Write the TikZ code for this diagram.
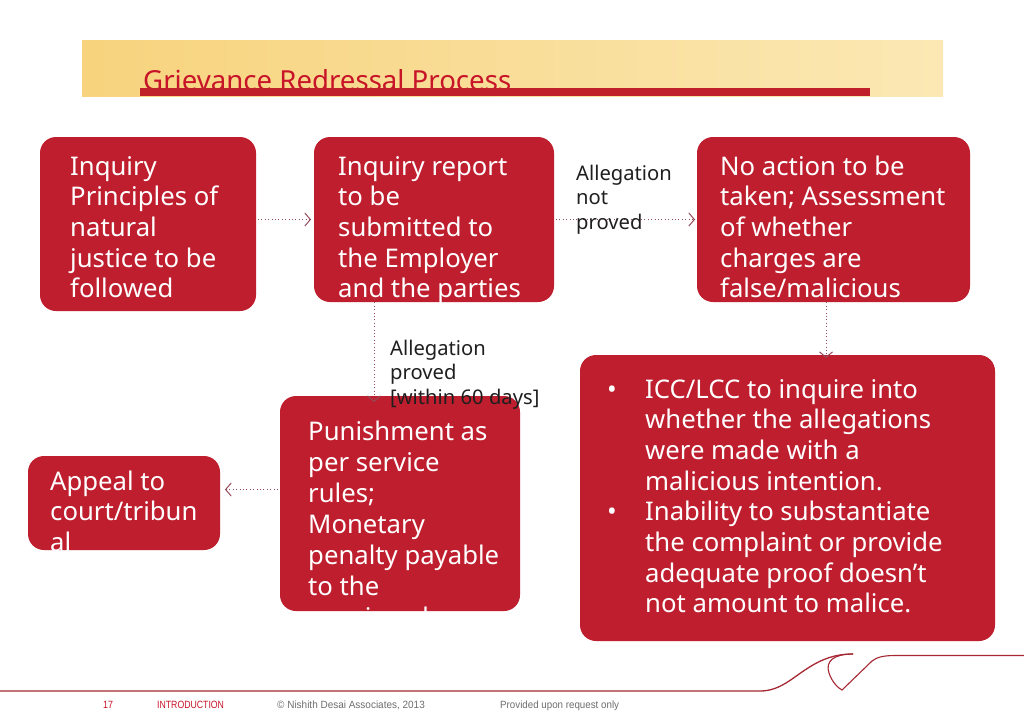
\documentclass[tikz,border=0pt]{standalone}
\usepackage{fontspec}
\setmainfont{Noto Sans}
\newfontfamily\footfont{Liberation Sans}
\usetikzlibrary{arrows.meta,calc}
\definecolor{boxred}{RGB}{190,30,45}
\definecolor{titlered}{RGB}{200,20,40}
\definecolor{barred}{RGB}{192,32,42}
\definecolor{arrowcol}{RGB}{150,75,90}
\definecolor{footred}{RGB}{165,40,50}
\definecolor{footgrey}{RGB}{110,110,110}
\definecolor{goldL}{RGB}{247,211,125}
\definecolor{goldR}{RGB}{251,232,180}
\newcommand{\tl}[1]{\hbox{#1}}
\begin{document}
\begin{tikzpicture}[x=1pt,y=-1pt,
  redbox/.style={rectangle, fill=boxred, draw=none, rounded corners=16pt, inner sep=0pt, outer sep=0pt},
  boxtext/.style={anchor=base west, text=white, inner sep=0pt, font=\fontsize{25.7}{30.7}\selectfont},
  lbltext/.style={anchor=base west, text={black!88}, inner sep=0pt, font=\fontsize{20.2}{24.5}\selectfont},
  flow/.style={draw=arrowcol, line width=1pt, dash pattern=on 1pt off 2.4pt,
     -{Straight Barb[length=5.5pt,width=13pt,line width=1pt]}},
  foottext/.style={anchor=base west, inner sep=0pt, font=\footfont\fontsize{10.5}{12}\selectfont}
]
\useasboundingbox (0,0) rectangle (1024,721);
\fill[white] (0,0) rectangle (1024,721);

% header
\shade[left color=goldL, right color=goldR] (82,40) rectangle (943,96);
\node[anchor=base west, inner sep=0pt, text=titlered, font=\fontsize{27.6}{32}\selectfont] (title) at (143,90) {Grievance Redressal Process};
\fill[barred] (140,88) rectangle (870,96);

% boxes
\node[redbox, minimum width=216pt, minimum height=174pt] (A) at (148,224) {};
\node[redbox, minimum width=240pt, minimum height=165pt] (B) at (434,219.5) {};
\node[redbox, minimum width=273pt, minimum height=165pt] (C) at (833.5,219.5) {};
\node[redbox, minimum width=415pt, minimum height=286pt] (D) at (787.5,498) {};
\node[redbox, minimum width=240pt, minimum height=215pt] (E) at (400,503.5) {};
\node[redbox, minimum width=192pt, minimum height=94pt] (F) at (124,503) {};

% texts
\node[boxtext] (At) at (70,175) {\vtop{\tl{Inquiry}\tl{Principles of}\tl{natural}\tl{justice to be}\tl{followed}}};
\begin{scope}
\clip[rounded corners=16pt] (B.north west) rectangle (B.south east);
\node[boxtext] (Bt) at (338,175) {\vtop{\tl{Inquiry report}\tl{to be}\tl{submitted to}\tl{the Employer}\tl{and the parties}}};
\end{scope}
\node[boxtext] (Ct) at (720,175) {\vtop{\tl{No action to be}\tl{taken; Assessment}\tl{of whether}\tl{charges are}\tl{false/malicious}}};
\node[boxtext] (Db1) at (607,398) {•};
\node[boxtext] (Db2) at (607,520.8) {•};
\node[boxtext] (Dt) at (645,398) {\vtop{\tl{ICC/LCC to inquire into}\tl{whether the allegations}\tl{were made with a}\tl{malicious intention.}\tl{Inability to substantiate}\tl{the complaint or provide}\tl{adequate proof doesn’t}\tl{not amount to malice.}}};
\begin{scope}
\clip[rounded corners=16pt] (E.north west) rectangle (E.south east);
\node[boxtext, font=\fontsize{25.7}{31.1}\selectfont] (Et) at (308,440) {\vtop{\tl{Punishment as}\tl{per service}\tl{rules;}\tl{Monetary}\tl{penalty payable}\tl{to the}\tl{aggrieved}}};
\end{scope}
\begin{scope}
\clip[rounded corners=16pt] (F.north west) rectangle (F.south east);
\node[boxtext] (Ft) at (50,490) {\vtop{\tl{Appeal to}\tl{court/tribun}\tl{al}}};
\end{scope}

% connectors
\coordinate (a1) at ($(A.east |- B.west)+(2,0)$);
\coordinate (b1) at ($(B.west)+(-3,0)$);
\draw[flow] (a1) -- (b1);
\draw[flow] ($(B.east)+(2,0)$) -- ($(C.west)+(-2,0)$);
\coordinate (b2) at ($(B.south)+(-60,-3)$);
\coordinate (e2) at ($(b2 |- E.north)+(0,6)$);
\draw[flow] (b2) -- (e2);
\coordinate (c3) at ($(C.south)+(-7.5,-3)$);
\coordinate (d3) at ($(c3 |- D.north)+(0,3)$);
\draw[flow] (c3) -- (d3);
\coordinate (e4) at ($(E.west)+(-2,-14)$);
\coordinate (f4) at ($(e4 -| F.east)+(5,0)$);
\draw[flow] (e4) -- (f4);

% labels
\node[lbltext] (L1) at (576,180) {\vtop{\tl{Allegation}\tl{not}\tl{proved}}};
\node[lbltext] (L2) at (390,355) {\vtop{\tl{Allegation}\tl{proved}\tl{[within 60 days]}}};

% footer lines
\draw[footred, line width=1.3pt] (0,691) -- (760,691)
  .. controls (780,691) and (792,678) .. (808,668)
  .. controls (822,659) and (835,654) .. (853,654);
\draw[footred, line width=1.1pt] (853,654) .. controls (834,654) and (825,661) .. (829,673)
  .. controls (832,682) and (838,688) .. (842,690)
  -- (872,661) .. controls (877,657) and (884,655.5) .. (895,655.5) -- (1024,655.5);

% footer text
\node[foottext, text=titlered] (f17) at (103,708) {\scalebox{0.85}[1]{17}};
\node[foottext, text=titlered] (fintro) at (157,708) {\scalebox{0.83}[1]{INTRODUCTION}};
\node[foottext, text=footgrey] (fcopy) at (277,708) {\scalebox{0.95}[1]{© Nishith Desai Associates, 2013}};
\node[foottext, text=footgrey] (fprov) at (500,708) {\scalebox{0.93}[1]{Provided upon request only}};
\end{tikzpicture}
\end{document}
